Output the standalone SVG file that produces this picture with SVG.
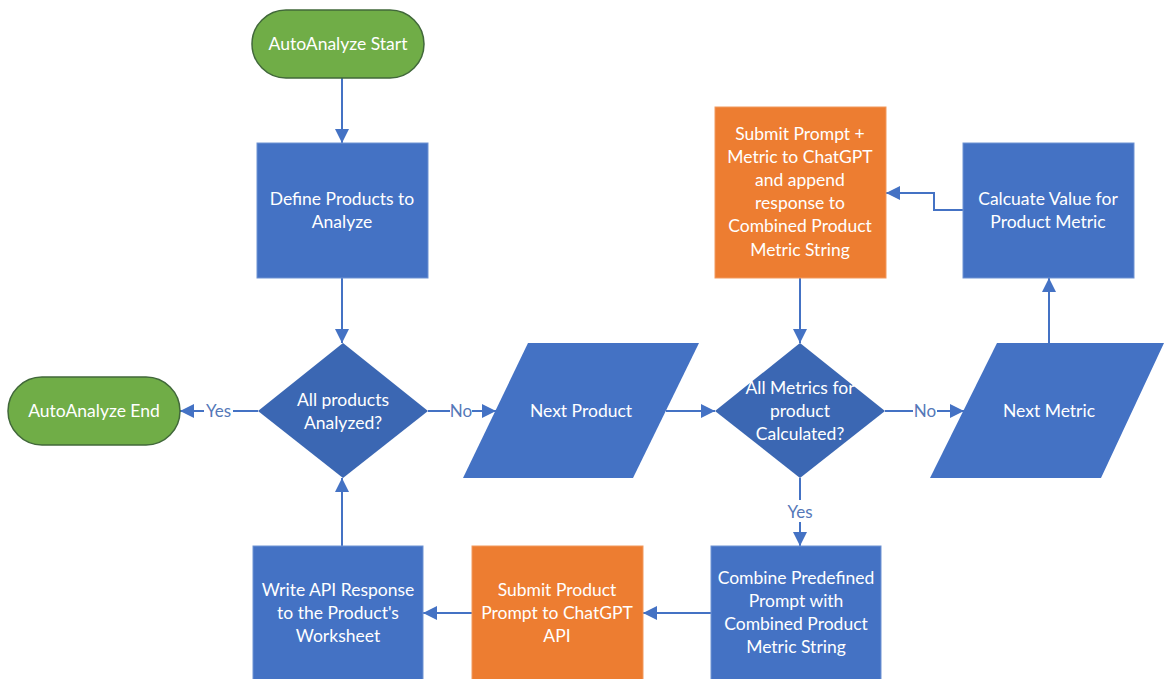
<svg xmlns="http://www.w3.org/2000/svg" width="1164" height="679" viewBox="0 0 1164 679">
<defs>
<style>
.t{font-family:Lato,"Liberation Sans",sans-serif;font-size:17.5px;fill:#fff;text-anchor:middle}
.lbl{font-family:Lato,"Liberation Sans",sans-serif;font-size:17px;fill:#5578B8;text-anchor:middle}
.term{fill:#70AD47;stroke:#41683A;stroke-width:1.5}
.proc{fill:#4472C4;stroke:#6F93D3;stroke-width:1}
.io{fill:#4472C4}
.dec{fill:#3B67B3}
.org{fill:#ED7D31;stroke:#F29A5E;stroke-width:1}
.c{fill:none;stroke:#4472C4;stroke-width:2;marker-end:url(#ah)}
.cn{fill:none;stroke:#4472C4;stroke-width:2}
</style>
<marker id="ah" markerUnits="userSpaceOnUse" markerWidth="14" markerHeight="14" viewBox="0 0 14 14" refX="14" refY="7" orient="auto">
<path d="M0,0 L14,7 L0,14 z" fill="#4472C4"/>
</marker>
</defs>
<rect width="1164" height="679" fill="#fff"/>
<g id="connectors">
<line class="c" x1="342" y1="78" x2="342" y2="143"/>
<line class="c" x1="342" y1="278" x2="342" y2="343"/>
<line class="cn" x1="258" y1="411" x2="233" y2="411"/>
<line class="c" x1="204" y1="411" x2="180" y2="411"/>
<text class="lbl" x="218.5" y="417">Yes</text>
<line class="cn" x1="428" y1="411" x2="450" y2="411"/>
<line class="c" x1="472" y1="411" x2="496" y2="411"/>
<text class="lbl" x="461" y="417">No</text>
<line class="c" x1="666" y1="411" x2="715" y2="411"/>
<line class="cn" x1="885" y1="411" x2="913" y2="411"/>
<line class="c" x1="937" y1="411" x2="964" y2="411"/>
<text class="lbl" x="925" y="417">No</text>
<line class="cn" x1="800" y1="478" x2="800" y2="500"/>
<line class="c" x1="800" y1="522" x2="800" y2="546"/>
<text class="lbl" x="800" y="518">Yes</text>
<line class="c" x1="711" y1="613" x2="643" y2="613"/>
<line class="c" x1="472" y1="613" x2="423" y2="613"/>
<line class="c" x1="342" y1="546" x2="342" y2="478"/>
<line class="c" x1="1049" y1="343" x2="1049" y2="278"/>
<polyline class="c" points="963,210 934,210 934,193 886,193"/>
<line class="c" x1="800" y1="278" x2="800" y2="343"/>
</g>
<g id="start">
<rect class="term" x="252" y="10" width="172" height="68" rx="34"/>
<text class="t" x="338" y="50">AutoAnalyze Start</text>
</g>
<g id="define">
<rect class="proc" x="257" y="143" width="171" height="135"/>
<text class="t" x="342" y="205">Define Products to</text>
<text class="t" x="342" y="228">Analyze</text>
</g>
<g id="allProducts">
<polygon class="dec" points="343,343 428,411 343,478 258,411"/>
<text class="t" x="343" y="406">All products</text>
<text class="t" x="343" y="429">Analyzed?</text>
</g>
<g id="end">
<rect class="term" x="8" y="377" width="172" height="68" rx="34"/>
<text class="t" x="94" y="417">AutoAnalyze End</text>
</g>
<g id="nextProduct">
<polygon class="io" points="528,343 699,343 633,478 463,478"/>
<text class="t" x="581" y="417">Next Product</text>
</g>
<g id="allMetrics">
<polygon class="dec" points="800,343 885,411 800,478 715,411"/>
<text class="t" x="800" y="394">All Metrics for</text>
<text class="t" x="800" y="417">product</text>
<text class="t" x="800" y="440">Calculated?</text>
</g>
<g id="nextMetric">
<polygon class="io" points="997,343 1164,343 1101,478 930,478"/>
<text class="t" x="1049" y="417">Next Metric</text>
</g>
<g id="calcValue">
<rect class="proc" x="963" y="143" width="171" height="135"/>
<text class="t" x="1048" y="205">Calcuate Value for</text>
<text class="t" x="1048" y="228">Product Metric</text>
</g>
<g id="submitMetric">
<rect class="org" x="715" y="107" width="171" height="171"/>
<text class="t" x="800" y="140">Submit Prompt +</text>
<text class="t" x="800" y="163">Metric to ChatGPT</text>
<text class="t" x="800" y="186">and append</text>
<text class="t" x="800" y="209">response to</text>
<text class="t" x="800" y="232">Combined Product</text>
<text class="t" x="800" y="256">Metric String</text>
</g>
<g id="combine">
<rect class="proc" x="711" y="546" width="170" height="136"/>
<text class="t" x="796" y="584">Combine Predefined</text>
<text class="t" x="796" y="607">Prompt with</text>
<text class="t" x="796" y="630">Combined Product</text>
<text class="t" x="796" y="653">Metric String</text>
</g>
<g id="submitProduct">
<rect class="org" x="472" y="546" width="171" height="136"/>
<text class="t" x="557" y="596">Submit Product</text>
<text class="t" x="557" y="619">Prompt to ChatGPT</text>
<text class="t" x="557" y="642">API</text>
</g>
<g id="writeResponse">
<rect class="proc" x="253" y="546" width="170" height="136"/>
<text class="t" x="338" y="596">Write API Response</text>
<text class="t" x="338" y="619">to the Product's</text>
<text class="t" x="338" y="642">Worksheet</text>
</g>
</svg>
